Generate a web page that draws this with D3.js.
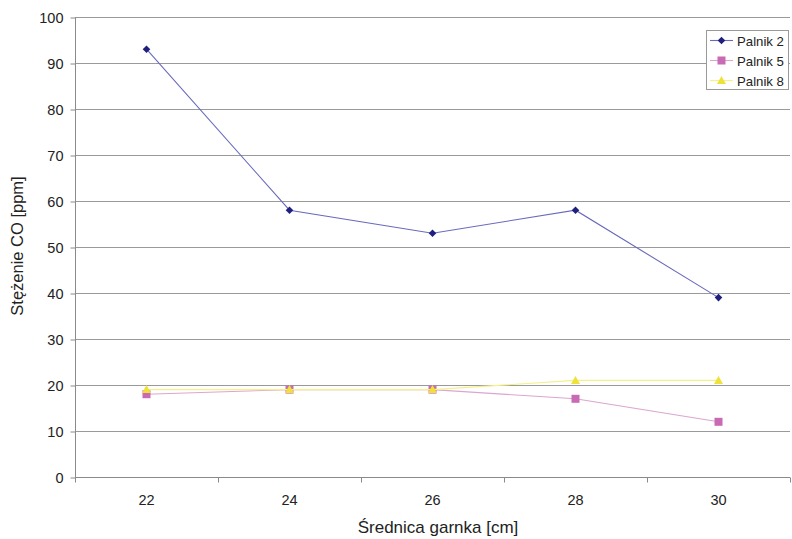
<!DOCTYPE html>
<html>
<head>
<meta charset="utf-8">
<script src="https://cdn.jsdelivr.net/npm/d3@7"></script>
<style>
  html, body { margin: 0; padding: 0; background: #fff; }
  svg { display: block; font-family: "Liberation Sans", Arial, sans-serif; }
</style>
</head>
<body>
<svg id="chart" width="792" height="539"></svg>
<script>
// Pot diameters [cm]
const categories = ["22", "24", "26", "28", "30"];
// CO concentration [ppm] per burner
const palnik2 = [93, 58, 53, 58, 39];
const palnik5 = [18, 19, 19, 17, 12];
const palnik8 = [19, 19, 19, 21, 21];
const yTicks = [0, 10, 20, 30, 40, 50, 60, 70, 80, 90, 100];

const series = [
  { name: "Palnik 2", values: palnik2, line: "#6a6abd", marker: "#1f1f80", shape: "diamond" },
  { name: "Palnik 5", values: palnik5, line: "#dba6d0", marker: "#c86ab4", shape: "square" },
  { name: "Palnik 8", values: palnik8, line: "#f6f08a", marker: "#eee23a", shape: "triangle" }
];

const svg = d3.select("#chart");
const plotL = 75, plotR = 790, plotT = 17, plotB = 477;

const x = d3.scaleBand().domain(categories).range([plotL, plotR]);
const y = d3.scaleLinear().domain([0, 100]).range([plotB, plotT]);
const cx = d => x(d) + x.bandwidth() / 2;

// Horizontal gridlines
svg.append("g").selectAll("line").data(yTicks.filter(t => t > 0)).join("line")
  .attr("x1", plotL).attr("x2", plotR)
  .attr("y1", d => y(d) + 0.5).attr("y2", d => y(d) + 0.5)
  .attr("stroke", "#9a9a9a").attr("stroke-width", 1);

// Y axis
const yAxis = svg.append("g").attr("transform", `translate(${plotL + 0.5},0.5)`)
  .call(d3.axisLeft(y).tickValues(yTicks).tickSize(5).tickPadding(7));
yAxis.select(".domain").attr("stroke", "#8a8a8a").attr("d", `M0,${plotT}V${plotB}`);
yAxis.selectAll(".tick line").attr("stroke", "#8a8a8a");
yAxis.selectAll("text").attr("font-size", 14.5).attr("fill", "#222")
  .attr("font-family", "Liberation Sans, Arial, sans-serif");

// X axis: ticks on category boundaries
const xAxisG = svg.append("g").attr("transform", `translate(0,${plotB + 0.5})`);
xAxisG.append("line").attr("x1", plotL).attr("x2", plotR).attr("stroke", "#8a8a8a");
const bounds = d3.range(categories.length + 1).map(i => plotL + i * x.bandwidth());
xAxisG.selectAll(".bt").data(bounds).join("line").attr("class", "bt")
  .attr("x1", d => Math.round(d) + 0.5).attr("x2", d => Math.round(d) + 0.5)
  .attr("y1", 0).attr("y2", 5).attr("stroke", "#8a8a8a");
xAxisG.selectAll("text").data(categories).join("text")
  .attr("x", d => cx(d)).attr("y", 27)
  .attr("text-anchor", "middle").attr("font-size", 14.5).attr("fill", "#222")
  .text(d => d);

// Axis titles
svg.append("text").attr("x", 438).attr("y", 533).attr("text-anchor", "middle")
  .attr("font-size", 17).attr("fill", "#222").text("Średnica garnka [cm]");
svg.append("text").attr("transform", "translate(23,246) rotate(-90)")
  .attr("text-anchor", "middle").attr("font-size", 16.5).attr("fill", "#222")
  .text("Stężenie CO [ppm]");

function marker(sel, shape, color) {
  if (shape === "diamond") {
    sel.append("path").attr("d", "M0,-3.8L3.8,0L0,3.8L-3.8,0Z").attr("fill", color);
  } else if (shape === "square") {
    sel.append("rect").attr("x", -4).attr("y", -4).attr("width", 8).attr("height", 8).attr("fill", color);
  } else {
    sel.append("path").attr("d", "M0,-4.5L4.5,3.5L-4.5,3.5Z").attr("fill", color);
  }
}

const line = d3.line().x((d, i) => cx(categories[i])).y(d => y(d));

series.forEach(s => {
  svg.append("path").datum(s.values).attr("d", line)
    .attr("fill", "none").attr("stroke", s.line).attr("stroke-width", 1.1);
  s.values.forEach((v, i) => {
    const g = svg.append("g").attr("transform", `translate(${cx(categories[i])},${y(v)})`);
    marker(g, s.shape, s.marker);
  });
});

// Legend
const lg = svg.append("g");
lg.append("rect").attr("x", 706.5).attr("y", 30.5).attr("width", 82).attr("height", 59)
  .attr("fill", "#fff").attr("stroke", "#9a9a9a");
series.forEach((s, i) => {
  const ly = 40.5 + i * 20;
  lg.append("line").attr("x1", 710).attr("x2", 733).attr("y1", ly).attr("y2", ly)
    .attr("stroke", s.line).attr("stroke-width", 1.1);
  marker(lg.append("g").attr("transform", `translate(721.5,${ly})`), s.shape, s.marker);
  lg.append("text").attr("x", 737).attr("y", ly + 5).attr("font-size", 13.2)
    .attr("fill", "#222").text(s.name);
});
</script>
</body>
</html>
